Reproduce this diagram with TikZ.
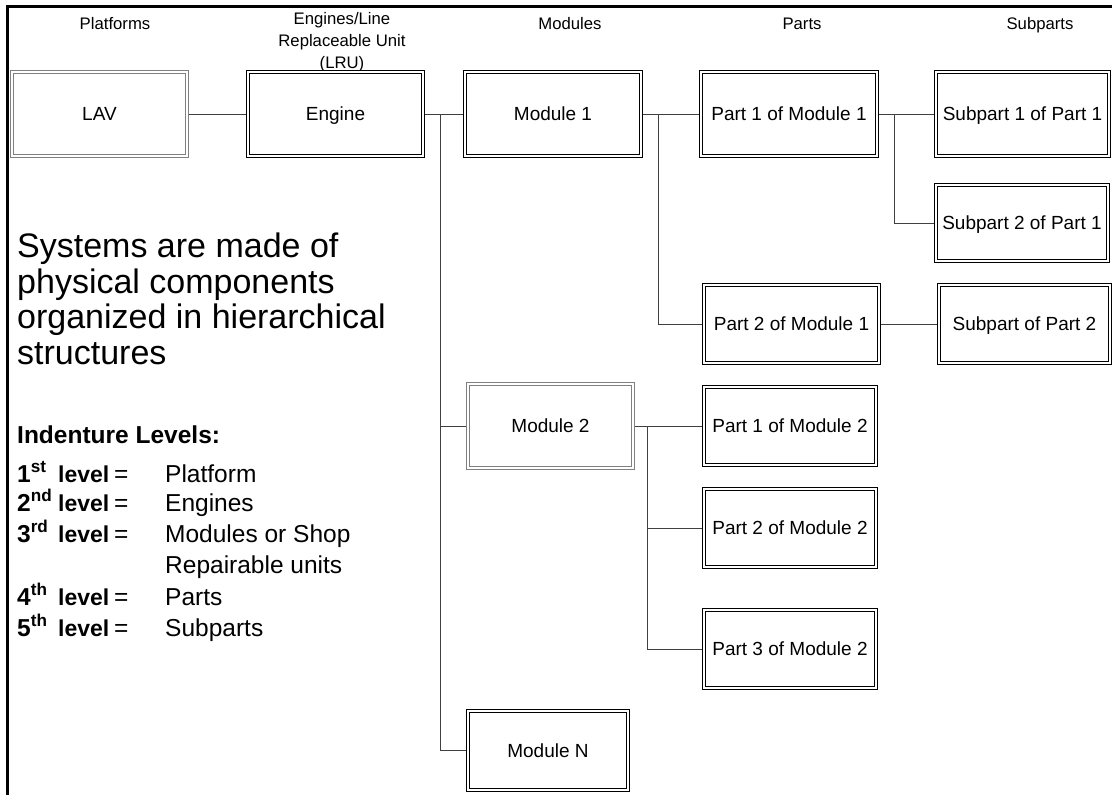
\documentclass[tikz,border=0pt]{standalone}
\usepackage{fontspec}
\setmainfont{Liberation Sans}

\tikzset{
 unit/.style={draw=black, line width=1pt, double=white, double distance=1.6pt,
  minimum width=175.4pt, minimum height=78.4pt, inner sep=0pt, outer sep=1.8pt,
  text height=14pt, text depth=0.4pt, font=\fontsize{19}{22}\selectfont},
 tall/.style={minimum height=84.4pt},
 pale/.style={unit, draw=black!50},
 link/.style={line width=0.9pt, draw=black!75},
 head/.style={inner sep=0pt, align=center, font=\fontsize{16.7}{22}\selectfont},
 lvl/.style={inner sep=0pt, font=\fontsize{24.5}{31}\selectfont},
}

\begin{document}
\begin{tikzpicture}[x=1pt,y=-1pt]
\useasboundingbox (0,0) rectangle (1112,795);

% frame
\draw[line width=3pt] (1112,6) -- (7.5,6) -- (7.5,795);

% column heads
\node[head, anchor=base] (hplat) at (115,29) {Platforms};
\node[head, anchor=north] (heng) at (342,12.5) {Engines/Line\\Replaceable Unit\\(LRU)};
\node[head, anchor=base] (hmod) at (570,29) {Modules};
\node[head, anchor=base] (hpart) at (802,29) {Parts};
\node[head, anchor=base] (hsub) at (1040,29) {Subparts};

% boxes
\node[pale, tall] (lav) at (99.5,114) {LAV};
\node[unit, tall] (engine) at (335.5,114) {Engine};
\node[unit, tall, minimum width=176.4pt] (mod1) at (553,114) {Module 1};
\node[pale, tall, minimum width=165.4pt] (mod2) at (550.5,426) {Module 2};
\node[unit, minimum width=160.4pt, minimum height=79.4pt] (modN) at (548,750.5) {Module N};

\node[unit, tall, minimum width=176.4pt] (p11) at (789,114) {Part 1 of Module 1};
\node[unit] (p12) at (791.5,324) {Part 2 of Module 1};
\foreach \i/\y in {1/426,2/528,3/649}
 \node[unit, minimum width=172.4pt] (p2\i) at (790,\y) {Part \i\ of Module 2};

\node[unit, tall, minimum width=173.4pt] (s11) at (1022.5,114) {Subpart 1 of Part 1};
\node[unit, minimum width=172.4pt, minimum height=76.4pt] (s12) at (1022,223) {Subpart 2 of Part 1};
\node[unit, minimum width=171.4pt] (s2) at (1024.5,324) {Subpart of Part 2};

% links
\coordinate (busm) at (440,114);
\coordinate (busp) at (658,114);
\coordinate (buss) at (894,114);
\coordinate (busq) at (647,426);
\draw[link] (lav) -- (engine);
\draw[link] (engine) -- (mod1);
\draw[link] (busm) |- (mod2.west);
\draw[link] (busm) |- (modN.west);
\draw[link] (mod1) -- (p11);
\draw[link] (busp) |- (p12.west);
\draw[link] (p11) -- (s11);
\draw[link] (buss) |- (s12.west);
\draw[link] (p12) -- (s2);
\draw[link] (mod2) -- (p21);
\draw[link] (busq) |- (p22.west);
\draw[link] (busq) |- (p23.west);

% text at left
\node[anchor=north west, align=left, inner sep=0pt, font=\fontsize{34}{35.5}\selectfont] (claim) at (17,233)
 {Systems are made of\\physical components\\organized in hierarchical\\structures};

\node[lvl, anchor=base west] (lvhead) at (17,443) {\textbf{Indenture Levels:}};
\foreach \n/\s/\t/\y in {1/st/Platform/482, 2/nd/Engines/511, 3/rd/Modules or Shop/542, 4/th/Parts/605, 5/th/Subparts/636}
{
 \node[lvl, anchor=base west] (num\n) at (17,\y) {\textbf{\n\textsuperscript{\s}}};
 \node[lvl, anchor=base west, font=\fontsize{23}{31}\selectfont] (lv\n) at (58,\y) {\textbf{level}};
 \node[lvl, anchor=base west] (eq\n) at (114,\y) {=};
 \node[lvl, anchor=base west] (txt\n) at (165,\y) {\t};
}
\node[lvl, anchor=base west] (txt3b) at (165,573) {Repairable units};

\end{tikzpicture}
\end{document}
